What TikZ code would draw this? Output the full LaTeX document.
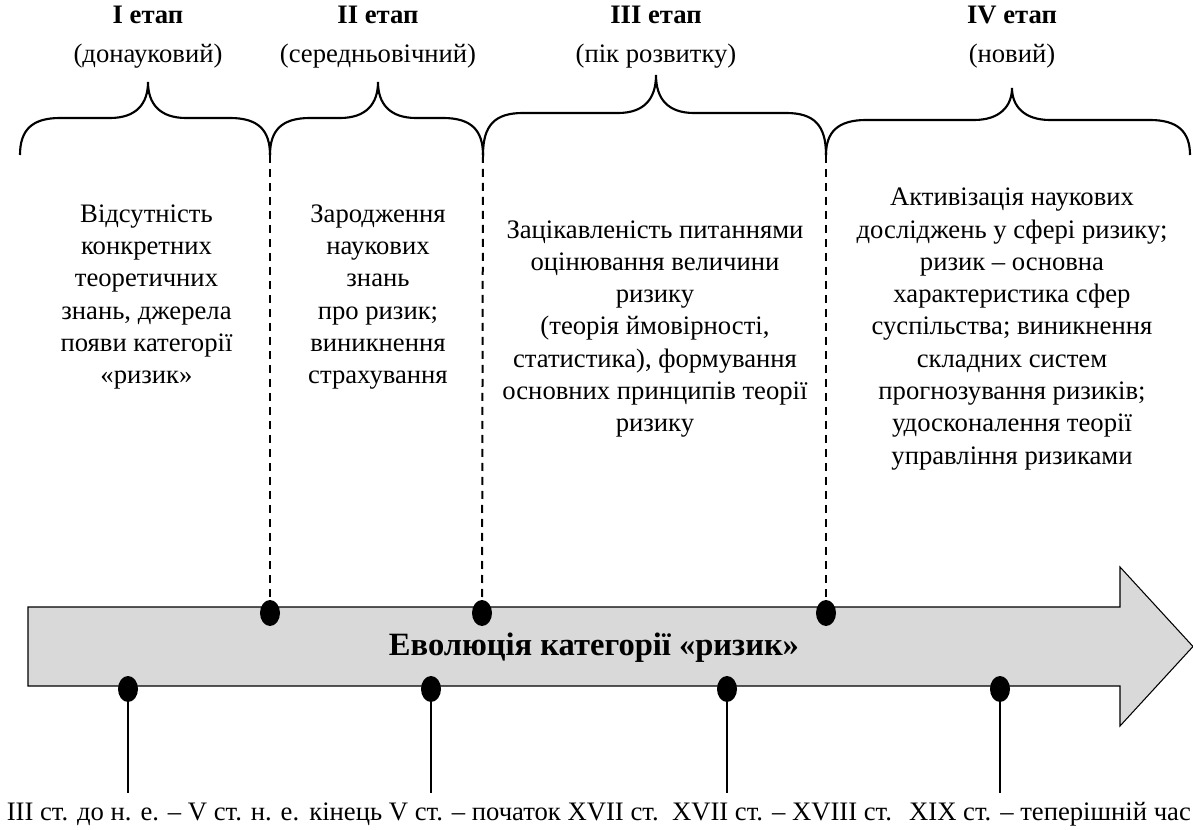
\documentclass[tikz,border=0pt]{standalone}
\usepackage{fontspec}
\setmainfont{Liberation Serif}
\usetikzlibrary{shapes.geometric,positioning}
\definecolor{arrowgray}{HTML}{D9D9D9}

\begin{document}
\begin{tikzpicture}[x=0.75pt,y=-0.75pt,
 every node/.style={align=center,font=\fontsize{20}{24.2}\selectfont,inner sep=0pt},
 stage/.style={font=\fontsize{20}{29}\selectfont},
 period/.style={anchor=base,text height=14pt,text depth=4pt},
 dot/.style={ellipse,fill=black,minimum width=15pt,minimum height=19.5pt},
 brace/.style={line width=1.6pt},
 divider/.style={line width=1.5pt,dash pattern=on 6pt off 4.5pt},
 tick/.style={line width=1.2pt}]
\useasboundingbox (0,0) rectangle (1193,830);

% timeline arrow
\draw[fill=arrowgray,line width=0.8pt] (28,607) -- (1120,607) -- (1120,567) -- (1193,646.5) -- (1120,726) -- (1120,686) -- (28,686) -- cycle;
\node[font=\fontsize{24.4}{28}\selectfont\bfseries] (evol) at (594,648) {Еволюція категорії «ризик»};

% braces over the stages
\foreach \xa/\xm/\xb/\yf/\yp in {20/148/270/118/82, 270/378/483/118/82, 483/656/826/113/75, 826/1012/1190/120/88}
 \draw[brace] (\xa,155) .. controls (\xa,{\yf+12}) and ({\xa+12},\yf) .. ({\xa+40},\yf) -- ({\xm-38},\yf)
  .. controls ({\xm-12},\yf) and (\xm,{\yf-14}) .. (\xm,\yp)
  .. controls (\xm,{\yf-14}) and ({\xm+12},\yf) .. ({\xm+38},\yf) -- ({\xb-40},\yf)
  .. controls ({\xb-12},\yf) and (\xb,{\yf+12}) .. (\xb,155);

% stage titles
\node[stage] (stage1) at (148,37) {\textbf{I етап}\\(донауковий)};
\node[stage] (stage2) at (378,37) {\textbf{II етап}\\(середньовічний)};
\node[stage] (stage3) at (656,37) {\textbf{III етап}\\(пік розвитку)};
\node[stage] (stage4) at (1012,37) {\textbf{IV етап}\\(новий)};

% stage contents
\node (text1) at (146.5,297) {Відсутність\\конкретних\\теоретичних\\знань, джерела\\появи категорії\\«ризик»};
\node (text2) at (378,297) {Зародження\\наукових\\знань\\про ризик;\\виникнення\\страхування};
\node (text3) at (655,329) {Зацікавленість питаннями\\оцінювання величини\\ризику\\(теорія ймовірності,\\статистика), формування\\основних принципів теорії\\ризику};
\node (text4) at (1012,329) {Активізація наукових\\досліджень у сфері ризику;\\ризик – основна\\характеристика сфер\\суспільства; виникнення\\складних систем\\прогнозування ризиків;\\удосконалення теорії\\управління ризиками};

% stage borders
\coordinate (j1) at (270,155);
\coordinate (j2) at (483,155);
\coordinate (j3) at (826,155);
\node[dot] (t1) at (270,613) {};
\node[dot] (t2) at (482,613) {};
\node[dot] (t3) at (826,613) {};
\foreach \i in {1,2,3}
 \draw[divider] (j\i) -- (t\i);

% periods
\node[dot] (b1) at (128,689) {};
\node[dot] (b2) at (431,689) {};
\node[dot] (b3) at (727,689) {};
\node[dot] (b4) at (1000,689) {};
\node[period] (p1) at (153,820) {III ст. до н. е. – V ст. н. е.};
\node[period] (p2) at (484,820) {кінець V ст. – початок XVII ст.};
\node[period] (p3) at (782,820) {XVII ст. – XVIII ст.};
\node[period] (p4) at (1050,820) {XIX ст. – теперішній час};
\foreach \i in {1,...,4}
 \draw[tick] (b\i) -- ([yshift=6pt]b\i |- p\i.north);
\end{tikzpicture}
\end{document}
